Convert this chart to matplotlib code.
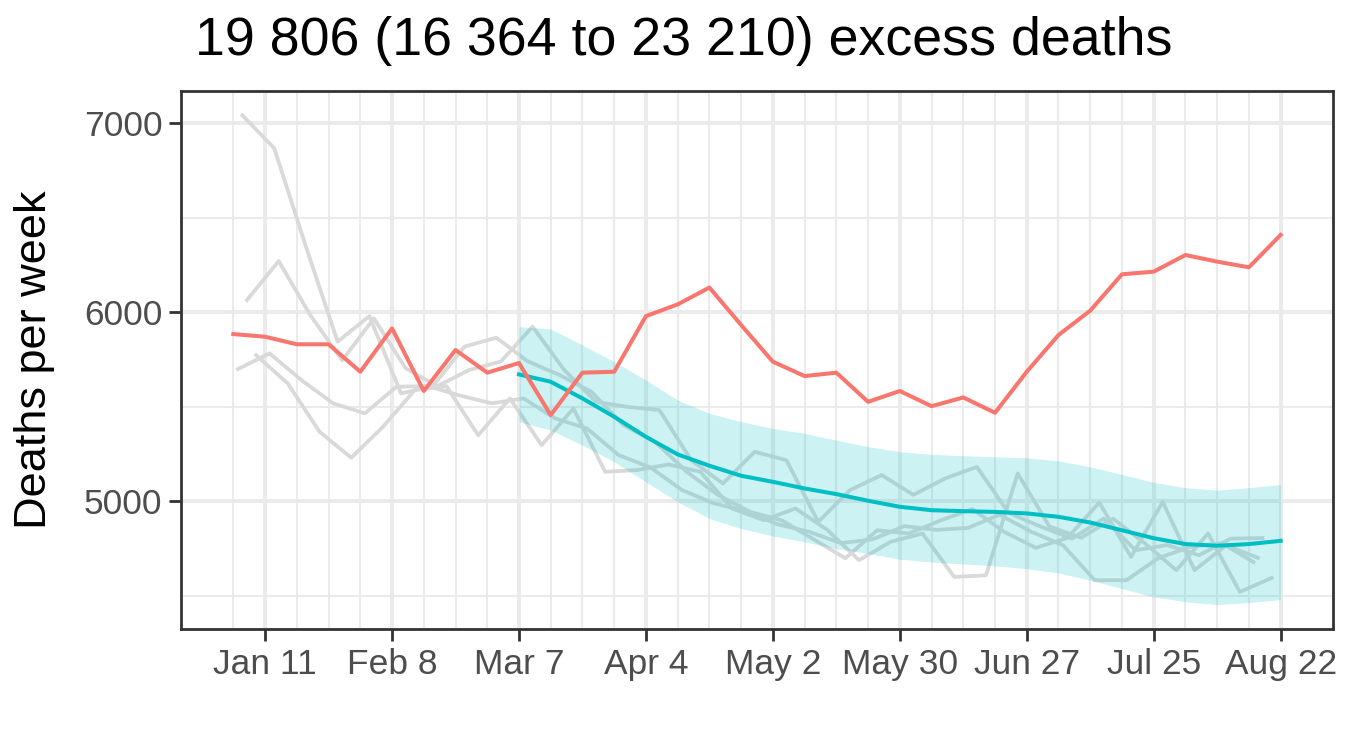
import matplotlib
matplotlib.use('Agg')
import matplotlib.pyplot as plt
import numpy as np

# ---------------- data ----------------
# week index 0 = Jan 4 (weekly)
weeks = list(range(34))
tick_weeks = [1, 5, 9, 13, 17, 21, 25, 29, 33]
tick_labels = ['Jan 11', 'Feb 8', 'Mar 7', 'Apr 4', 'May 2', 'May 30', 'Jun 27', 'Jul 25', 'Aug 22']

observed = [5885, 5871, 5831, 5831, 5686, 5915, 5584, 5801, 5681, 5732,
            5457, 5681, 5686, 5980, 6042, 6131, 5933, 5739, 5663, 5681,
            5527, 5584, 5504, 5550, 5469, 5686, 5880, 6009, 6201, 6215,
            6303, 6268, 6238, 6409]

expected_weeks = list(range(9, 34))
expected = [5672, 5633, 5545, 5448, 5342, 5249, 5189, 5136, 5104, 5069,
            5039, 5004, 4972, 4954, 4949, 4945, 4937, 4919, 4889, 4848,
            4806, 4775, 4766, 4775, 4792]
expected_lo = [5422, 5377, 5298, 5210, 5104, 4998, 4910, 4857, 4818, 4787,
               4751, 4725, 4695, 4680, 4670, 4660, 4645, 4622, 4584, 4540,
               4496, 4470, 4455, 4466, 4481]
expected_hi = [5924, 5912, 5827, 5739, 5642, 5536, 5466, 5422, 5386, 5360,
               5324, 5290, 5263, 5249, 5242, 5236, 5231, 5215, 5183, 5143,
               5101, 5073, 5060, 5073, 5090]

# previous years (week offsets in days relative to the current year's weeks)
prev_offsets_days = [2, 3, 1, 5]
prev_a = [7041, 6868, 6348, 5845, 5980, 5571, 5610, 5819, 5866, 5740,
          5668, 5580, 5404, 5316, 5157, 5033, 4945, 4900, 4800, 4700,
          4848, 4831, 4900, 4960, 4840, 4755, 4808, 4995, 4707, 4998,
          4637, 4769, 4702]
prev_b = [6065, 6271, 5984, 5746, 5968, 5704, 5610, 5695, 5740, 5924,
          5695, 5527, 5500, 5483, 5218, 5095, 5263, 5218, 4892, 5060,
          5140, 5035, 5122, 5183, 4940, 4868, 4804, 4910, 4742, 4770,
          4716, 4804, 4807]
prev_c = [5700, 5783, 5642, 5519, 5466, 5607, 5610, 5560, 5519, 5545,
          5439, 5386, 5245, 5180, 5060, 4990, 4950, 4880, 4840, 4780,
          4800, 4870, 4850, 4860, 4930, 4840, 4769, 4584, 4584, 4700,
          4760, 4780, 4680]
prev_d = [5774, 5624, 5369, 5231, 5395, 5589, 5610, 5350, 5545, 5298,
          5492, 5157, 5166, 5196, 5157, 4963, 4901, 4963, 4850, 4690,
          4787, 4831, 4601, 4610, 5148, 4868, 4808, 4910, 4780, 4637,
          4831, 4522, 4596]
prev_years = [prev_a, prev_b, prev_c, prev_d]

title = '19 806 (16 364 to 23 210) excess deaths'
ylabel = 'Deaths per week'

# ---------------- style ----------------
RED = '#F8766D'
TEAL = '#00BFC4'
GREY = '#D9D9D9'
GRID = '#EBEBEB'
DARK = '#333333'
TXT = '#4D4D4D'

plt.rcParams['font.family'] = ['Liberation Sans', 'DejaVu Sans']

fig = plt.figure(figsize=(13.5, 7.5), dpi=100)
ax = fig.add_axes([181/1350, 1 - 629/750, (1333-181)/1350, (629-91)/750])

for vals, off in zip(prev_years, prev_offsets_days):
    xs = np.arange(len(vals)) + off / 7.0
    ax.plot(xs, vals, color=GREY, lw=2.7, zorder=2)

ax.fill_between(expected_weeks, expected_lo, expected_hi, color=TEAL,
                alpha=0.2, lw=0, zorder=3)
ax.plot(expected_weeks, expected, color=TEAL, lw=2.9, zorder=4)
ax.plot(weeks, observed, color=RED, lw=2.9, zorder=5)

ax.set_xlim(-1.65, 34.65)
ax.set_ylim(4326, 7170)

ax.set_xticks(tick_weeks)
ax.set_xticklabels(tick_labels)
ax.set_xticks(weeks, minor=True)
ax.set_yticks([5000, 6000, 7000])
ax.set_yticks([4500, 5500, 6500], minor=True)

ax.grid(which='major', color=GRID, lw=2.9, zorder=0)
ax.grid(which='minor', color=GRID, lw=1.5, zorder=0)
ax.set_axisbelow(True)

for s in ax.spines.values():
    s.set_color(DARK)
    s.set_linewidth(2.0)

ax.tick_params(which='major', length=8.5, width=2.0, color=DARK,
               labelsize=25.5, labelcolor=TXT, pad=5)
ax.tick_params(which='minor', length=0)

fig.text(35/1350, 0.5 + (750/2 - 360)/750, ylabel, rotation=90,
         ha='center', va='center', fontsize=32.5, color='black')
fig.text(195/1350, 1 - 55/750, title, ha='left', va='baseline',
         fontsize=38.7, color='black')

fig.savefig('out.png', dpi=100)
